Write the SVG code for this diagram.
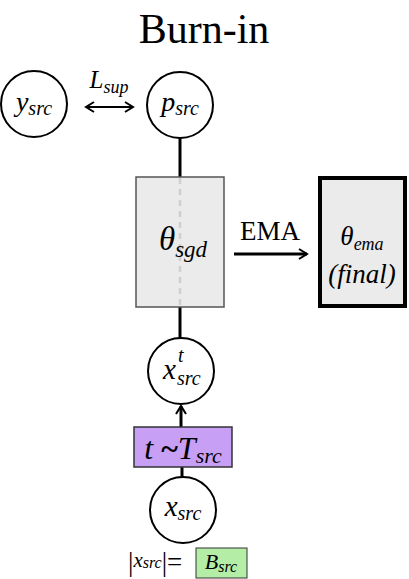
<svg xmlns="http://www.w3.org/2000/svg" width="409" height="579" viewBox="0 0 409 579">
<style>
text{font-family:"Liberation Serif","DejaVu Serif","Times New Roman",serif}
.m{font-style:italic}
.c{fill:#fff;stroke:#000;stroke-width:2}
.ln{stroke:#000;stroke-width:3;fill:none}
</style>
<defs>
<marker id="open" viewBox="0 0 12 12" refX="10" refY="6" markerWidth="12" markerHeight="12" markerUnits="userSpaceOnUse" orient="auto-start-reverse">
<path d="M2,1 L10,6 L2,11" fill="none" stroke="#000" stroke-width="2"/>
</marker>
</defs>
<text x="204" y="43" font-size="42" text-anchor="middle">Burn-in</text>
<g id="connectors">
<line x1="86" y1="107" x2="133" y2="107" stroke="#000" stroke-width="2" marker-start="url(#open)" marker-end="url(#open)"/>
<text x="109" y="88" font-size="25" text-anchor="middle" class="m">L<tspan font-size="18" dy="5">sup</tspan></text>
<line class="ln" x1="180" y1="138" x2="180" y2="177"/>
<line class="ln" x1="180" y1="307" x2="180" y2="339"/>
<line x1="234" y1="254" x2="307" y2="254" stroke="#000" stroke-width="3" marker-end="url(#open)"/>
<text x="270" y="240" font-size="27" text-anchor="middle">EMA</text>
<line x1="181" y1="427" x2="181" y2="406" stroke="#000" stroke-width="3" marker-end="url(#open)"/>
<line class="ln" x1="182" y1="467" x2="182" y2="478"/>
</g>
<g id="y_src">
<circle class="c" cx="34" cy="104" r="33"/>
<text x="34" y="111" font-size="28" text-anchor="middle" class="m">y<tspan font-size="20" dy="4">src</tspan></text>
</g>
<g id="p_src">
<circle class="c" cx="180" cy="105" r="33"/>
<text x="180" y="111" font-size="28" text-anchor="middle" class="m">p<tspan font-size="20" dy="4">src</tspan></text>
</g>
<g id="theta_sgd">
<rect x="136" y="177" width="88" height="130" fill="#ebebeb" stroke="#555" stroke-width="1.5"/>
<line x1="180" y1="178" x2="180" y2="306" stroke="#cfcfcf" stroke-width="2.5" stroke-dasharray="6,5"/>
<text x="183" y="250" font-size="33" text-anchor="middle" class="m">θ<tspan font-size="23" dy="7">sgd</tspan></text>
</g>
<g id="theta_ema">
<rect x="320" y="178" width="85" height="128" fill="#ebebeb" stroke="#000" stroke-width="4"/>
<text x="362" y="245" font-size="27" text-anchor="middle" class="m">θ<tspan font-size="18" dy="5">ema</tspan></text>
<text x="362" y="283" font-size="27" text-anchor="middle" class="m">(final)</text>
</g>
<g id="x_src_t">
<circle class="c" cx="181" cy="371" r="33"/>
<text x="163" y="379" font-size="29" class="m">x</text>
<text x="178" y="362" font-size="20" class="m">t</text>
<text x="177" y="385" font-size="20" class="m">src</text>
</g>
<g id="t_sample">
<rect x="134" y="427" width="98" height="40" fill="#c79ff5" stroke="#333" stroke-width="1.5"/>
<text x="183" y="459" font-size="32" text-anchor="middle" class="m">t <tspan font-style="normal" font-weight="bold">~</tspan>T<tspan font-size="22" dy="4">src</tspan></text>
</g>
<g id="x_src">
<circle class="c" cx="183" cy="510" r="33"/>
<text x="183" y="516" font-size="29" text-anchor="middle" class="m">x<tspan font-size="20" dy="4">src</tspan></text>
</g>
<g id="batch">
<text x="128" y="571" font-size="27">|<tspan class="m" font-size="21" dy="-4">x</tspan><tspan class="m" font-size="16" dy="1">src</tspan><tspan dy="3">|=</tspan></text>
<rect x="196" y="548" width="51" height="30" fill="#b4eea6" stroke="#333" stroke-width="1"/>
<text x="221" y="569" font-size="22" text-anchor="middle" class="m">B<tspan font-size="16" dy="3">src</tspan></text>
</g>
</svg>
